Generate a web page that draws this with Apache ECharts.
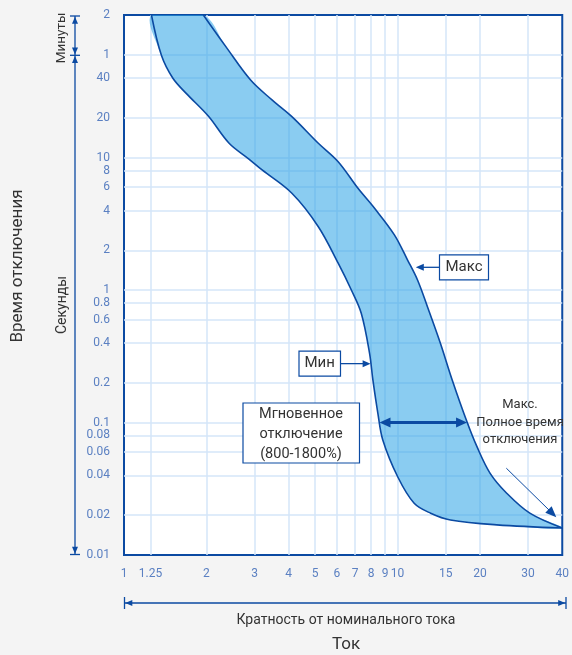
<!DOCTYPE html>
<html><head><meta charset="utf-8">
<script src="https://cdn.jsdelivr.net/npm/echarts@6/dist/echarts.min.js"></script>
<style>html,body{margin:0;padding:0;background:#f4f4f4}#c{width:572px;height:655px}</style>
</head><body><div id="c"></div><script>
// ---- data ----
const xTicks = [1, 1.25, 2, 3, 4, 5, 6, 7, 8, 9, 10, 15, 20, 30, 40];
const yTicks = [0.01, 0.02, 0.04, 0.06, 0.08, 0.1, 0.2, 0.4, 0.6, 0.8, 1, 2, 4, 6, 8, 10, 20, 40, 60, 120];
const yTickText = {60: '1', 120: '2'}; // minutes
// Min curve (current multiple, trip time in s)
const minX = [1.26, 1.37, 1.509, 1.688, 2.033, 2.422, 2.862, 3.198, 4.109, 5.133, 6.066, 6.777, 7.367, 7.901, 8.125, 8.473, 8.831, 10.01, 11.5, 13.21, 15.61, 23.06, 40];
const minY = [120, 59.5, 39.9, 30.7, 20.7, 12.9, 9.8, 8.1, 5.4, 3.02, 1.6, 1.004, 0.67, 0.334, 0.21, 0.1176, 0.0739, 0.039, 0.0246, 0.0207, 0.0184, 0.0169, 0.016];
// Max curve
const maxX = [1.95, 2.357, 2.903, 3.476, 4.109, 5.133, 6.066, 7.168, 8.24, 9.736, 10.88, 11.83, 12.86, 14.33, 15.84, 17.95, 19.51, 21.8, 25.06, 30.45, 40];
const maxY = [120, 69.2, 38.7, 27.4, 20.5, 12.9, 9.36, 5.89, 4.16, 2.62, 1.69, 1.195, 0.751, 0.40, 0.21, 0.101, 0.0658, 0.0414, 0.0293, 0.0207, 0.016];
// annotation anchors (data space)
const maxArrowTip = [11.66, 1.49];
const minArrowTip = [7.97, 0.279];
const instantFrom = [8.59, 0.1];
const instantTo = [17.95, 0.1];
const totalArrowTip = [38.05, 0.0193];

const DARK = '#0b4aa2';
const TXT = '#333333';
const LBL = '#5b80c2';
const FONT = 'Roboto, "Noto Sans", sans-serif';
const SMOOTH = 0.35;

const chart = echarts.init(document.getElementById('c'), null, {renderer: 'canvas'});
const fmt = v => String(+(+v).toPrecision(6));

chart.setOption({
  animation: false,
  backgroundColor: '#f4f4f4',
  grid: {left: 124, top: 15, width: 442, height: 540, show: true, backgroundColor: '#ffffff', borderColor: DARK, borderWidth: 2, containLabel: false},
  xAxis: {
    type: 'log', logBase: 10, min: 1, max: 40,
    axisLine: {show: false}, axisTick: {show: false}, splitLine: {show: false},
    axisLabel: {customValues: xTicks, color: LBL, fontSize: 12, fontFamily: FONT, margin: 13, formatter: v => fmt(v)}
  },
  yAxis: {
    type: 'log', logBase: 10, min: 0.01, max: 120,
    axisLine: {show: false}, axisTick: {show: false}, splitLine: {show: false},
    axisLabel: {customValues: yTicks, color: LBL, fontSize: 12, fontFamily: FONT, margin: 14,
      formatter: v => { const k = fmt(v); return yTickText[k] || k; }}
  },
  series: [
    {
      type: 'line', data: [], silent: true, z: 1,
      markLine: {
        silent: true, symbol: 'none', label: {show: false}, animation: false,
        lineStyle: {color: '#d5e6f8', width: 1.5, type: 'solid'},
        data: xTicks.slice(1, -1).map(v => ({xAxis: v})).concat(yTicks.slice(1, -1).map(v => ({yAxis: v})))
      }
    },
    {
      type: 'custom', z: 5, silent: true,
      data: [[xTicks[0], yTicks[0]]],
      renderItem: function (params, api) {
        const maxPts = maxX.map((x, i) => api.coord([x, maxY[i]]));
        const minPts = minX.map((x, i) => api.coord([x, minY[i]]));
        const poly = maxPts.concat(minPts.slice(0, -1).reverse());
        const cs = params.coordSys;
        return {
          type: 'group',
          clipPath: {type: 'rect', shape: {x: cs.x, y: cs.y, width: cs.width, height: cs.height}},
          children: [
            {type: 'polygon', shape: {points: poly, smooth: SMOOTH}, style: {fill: 'rgba(41,163,230,0.55)'}},
            {type: 'polyline', shape: {points: maxPts, smooth: SMOOTH}, style: {stroke: DARK, lineWidth: 1.6, fill: null}},
            {type: 'polyline', shape: {points: minPts, smooth: SMOOTH}, style: {stroke: DARK, lineWidth: 1.6, fill: null}}
          ]
        };
      }
    }
  ]
});

// ---- annotations ----
function head(tx, ty, dx, dy, len, half, color) {
  const n = Math.hypot(dx, dy); dx /= n; dy /= n;
  const bx = tx - dx * len, by = ty - dy * len;
  const px = -dy, py = dx;
  return {type: 'polygon', shape: {points: [[tx, ty], [bx + px * half, by + py * half], [bx - px * half, by - py * half]]}, style: {fill: color}, z: 20};
}
function line(x1, y1, x2, y2, w, color) {
  return {type: 'line', shape: {x1, y1, x2, y2}, style: {stroke: color || DARK, lineWidth: w || 1.3}, z: 20};
}
function box(x, y, w, h) {
  return {type: 'rect', shape: {x, y, width: w, height: h}, style: {fill: '#ffffff', stroke: DARK, lineWidth: 1.2}, z: 20};
}
function text(str, x, y, size, rot) {
  return {type: 'text', x, y, rotation: rot || 0, style: {text: str, fill: TXT, font: size + 'px ' + FONT, textAlign: 'center', textVerticalAlign: 'middle'}, z: 21};
}
const px = p => chart.convertToPixel({gridIndex: 0}, p);
const g = [];
// left vertical scale
g.push(line(75, 16, 75, 554.5, 1.3));
[16, 55.3, 554.5].forEach(y => g.push(line(70, y, 80, y, 1.3)));
g.push(head(75, 16.8, 0, -1, 7, 3, DARK));
g.push(head(75, 54.5, 0, 1, 7, 3, DARK));
g.push(head(75, 56.1, 0, -1, 7, 3, DARK));
g.push(head(75, 553.7, 0, 1, 7, 3, DARK));
g.push(text('Минуты', 62, 38, 13.5, Math.PI / 2));
g.push(text('Секунды', 62, 305, 14, Math.PI / 2));
g.push(text('Время отключения', 18, 266, 17, Math.PI / 2));
// bottom scale
g.push(line(124.5, 603, 566, 603, 1.3));
g.push(line(124.5, 597, 124.5, 609, 1.3));
g.push(line(566, 597, 566, 609, 1.3));
g.push(head(125.3, 603, -1, 0, 7, 3, DARK));
g.push(head(565.2, 603, 1, 0, 7, 3, DARK));
g.push(text('Кратность от номинального тока', 346, 620, 14));
g.push(text('Ток', 346, 645, 17));
// Макс label
const mt = px(maxArrowTip);
g.push(box(439.5, mt[1] - 12.5, 49, 25));
g.push(text('Макс', 464, mt[1], 15));
g.push(line(439.5, mt[1], mt[0] + 6, mt[1], 1.3));
g.push(head(mt[0], mt[1], -1, 0, 8, 3.5, DARK));
// Мин label
const nt = px(minArrowTip);
g.push(box(299, nt[1] - 12.5, 41.5, 25));
g.push(text('Мин', 319.7, nt[1], 15));
g.push(line(340.5, nt[1], nt[0] - 6, nt[1], 1.3));
g.push(head(nt[0], nt[1], 1, 0, 8, 3.5, DARK));
// instantaneous trip
const a1 = px(instantFrom), a2 = px(instantTo);
g.push(line(a1[0] + 8, a1[1], a2[0] - 8, a2[1], 3));
g.push(head(a1[0], a1[1], -1, 0, 11, 5, DARK));
g.push(head(a2[0], a2[1], 1, 0, 11, 5, DARK));
g.push(box(243, 403, 116.5, 60));
g.push(text('Мгновенное', 301, 414.5, 14.5));
g.push(text('отключение', 301, 434.5, 14.5));
g.push(text('(800-1800%)', 301, 454.5, 14.5));
// total clearing time
g.push(text('Макс.', 520, 405, 13));
g.push(text('Полное время', 520, 422.5, 13));
g.push(text('отключения', 520, 439.5, 13));
const tt = px(totalArrowTip);
g.push(line(tt[0] - 50, tt[1] - 49, tt[0] - 6, tt[1] - 5.9, 1));
g.push(head(tt[0], tt[1], 50, 49, 11, 4.5, DARK));

chart.setOption({graphic: {elements: g}});
</script></body></html>
